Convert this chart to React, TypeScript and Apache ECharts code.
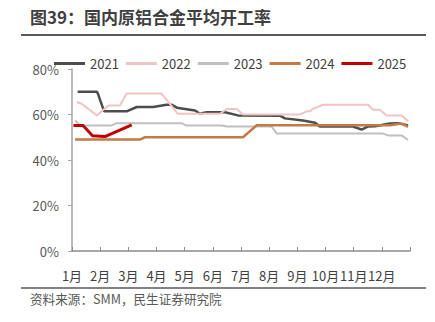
import React, { useEffect, useRef } from "react";
import * as echarts from "echarts";

const monthLabels = ["1月", "2月", "3月", "4月", "5月", "6月", "7月", "8月", "9月", "10月", "11月", "12月"];
const yTicks = [0, 20, 40, 60, 80];
const seriesNames = ["2021", "2022", "2023", "2024", "2025"];

// [month position (0 = start of Jan), utilisation %]
const s2021: [number, number][] = [
  [0.2, 70], [0.88, 70], [0.92, 69.2], [1.14, 61.4], [1.94, 61.4], [2.3, 63.3], [2.88, 63.3],
  [3.36, 64.3], [3.55, 64.3], [3.72, 63], [4.37, 61.8], [4.54, 60.3], [4.78, 61], [5.43, 61],
  [5.89, 59.6], [7.38, 59.5], [7.56, 58.3], [8.2, 57.4], [8.63, 56.4], [8.8, 54.7], [9.98, 54.7],
  [10.28, 53.4], [10.5, 54.7], [10.76, 54.8], [11.29, 56], [11.57, 56.2], [11.93, 55.2],
];
const s2022: [number, number][] = [
  [0.17, 65.5], [0.34, 64.7], [0.88, 59.6], [1.29, 64], [1.7, 64], [1.94, 69.2], [3.18, 69.2],
  [3.76, 60.3], [5.25, 60.3], [5.49, 62.4], [5.85, 62.4], [6.07, 60], [8.09, 60], [8.33, 61.4],
  [8.45, 61.4], [8.56, 62.5], [8.91, 64.3], [10.51, 64.3], [10.69, 62.1], [10.93, 62.1],
  [11.17, 59.6], [11.7, 59.6], [11.94, 57],
];
const s2023: [number, number][] = [
  [0.11, 57.4], [0.28, 55.2], [1.41, 55.2], [1.59, 56.2], [3.89, 56.2], [4.05, 55.2], [5.32, 55.2],
  [5.5, 54.7], [7.09, 54.7], [7.27, 51.6], [11.04, 51.6], [11.22, 50.8], [11.7, 50.8], [11.93, 48.8],
];
const s2024: [number, number][] = [
  [0.11, 49], [2.41, 49], [2.59, 50], [6.07, 50], [6.56, 55.3], [11.29, 55.3], [11.7, 56], [11.93, 54.6],
];
const s2025: [number, number][] = [
  [0.05, 55.2], [0.39, 55.2], [0.73, 50.7], [1.17, 50.3], [2.12, 55.4],
];

const colors = ["#4d4d4d", "#f0c4c4", "#bfbfbf", "#c47a45", "#c00000"];
const widths = [2.5, 2, 2, 2.5, 3];
const allData = [s2021, s2022, s2023, s2024, s2025];

const FONT = "'Noto Sans CJK SC', 'Noto Sans', sans-serif";

export default function App() {
  const ref = useRef<HTMLDivElement>(null);
  useEffect(() => {
    if (!ref.current) return;
    const chart = echarts.init(ref.current, undefined, { renderer: "svg" });
    chart.setOption({
      animation: false,
      backgroundColor: "#ffffff",
      textStyle: { fontFamily: FONT },
      grid: { left: 72, right: 25, top: 69, bottom: 71, containLabel: false },
      legend: {
        data: seriesNames.map((name) => ({ name, icon: "rect" })),
        left: 49,
        top: 52,
        itemWidth: 31,
        itemHeight: 3,
        itemGap: 7,
        textStyle: { fontSize: 13, color: "#404040", fontFamily: FONT },
      },
      xAxis: {
        type: "value",
        min: 0,
        max: 12,
        interval: 1,
        axisLine: { show: true, lineStyle: { color: "#8c8c8c", width: 1.5 } },
        axisTick: { show: true, inside: true, length: 4, lineStyle: { color: "#8c8c8c" } },
        axisLabel: {
          margin: 18,
          fontSize: 13,
          color: "#404040",
          fontFamily: FONT,
          formatter: (v: number) => monthLabels[v] ?? "",
        },
        splitLine: { show: false },
      },
      yAxis: {
        type: "value",
        min: yTicks[0],
        max: yTicks[yTicks.length - 1],
        interval: 20,
        axisLine: { show: true, lineStyle: { color: "#a6a6a6", width: 1.5 } },
        axisTick: { show: true, length: 4, lineStyle: { color: "#a6a6a6" } },
        axisLabel: { margin: 13, fontSize: 13, color: "#595959", fontFamily: FONT, formatter: "{value}%" },
        splitLine: { show: false },
      },
      series: seriesNames.map((name, i) => ({
        name,
        type: "line",
        data: allData[i],
        symbol: "none",
        showSymbol: false,
        color: colors[i],
        lineStyle: { color: colors[i], width: widths[i] },
        z: i === 4 ? 5 : 2,
      })),
      graphic: [
        {
          type: "text",
          left: 30,
          top: 8,
          style: { text: "图39：国内原铝合金平均开工率", font: `bold 17px ${FONT}`, fill: "#3f3f3f" },
        },
        { type: "line", shape: { x1: 21, y1: 35, x2: 426, y2: 35 }, style: { stroke: "#595959", lineWidth: 2 } },
        { type: "line", shape: { x1: 21, y1: 288, x2: 426, y2: 288 }, style: { stroke: "#595959", lineWidth: 1.5 } },
        {
          type: "text",
          left: 30,
          top: 292,
          style: { text: "资料来源：SMM，民生证券研究院", font: `12.6px ${FONT}`, fill: "#595959" },
        },
      ],
    });
    return () => chart.dispose();
  }, []);
  return <div ref={ref} style={{ position: "fixed", left: 0, top: 0, width: 435, height: 322 }} />;
}
